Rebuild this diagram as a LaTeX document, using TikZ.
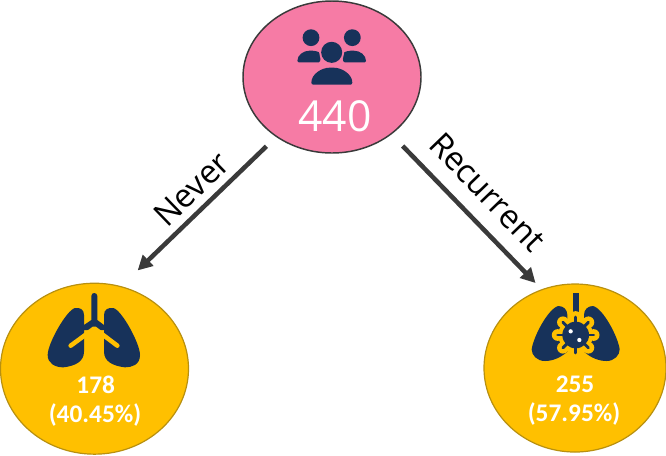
\documentclass[tikz,border=0pt]{standalone}
\usepackage{fontspec}
\setmainfont{Open Sans}
\newfontfamily\carl{Carlito}
\usetikzlibrary{arrows.meta,shapes.geometric}
\definecolor{navy}{HTML}{17325A}
\definecolor{pinkfill}{HTML}{F67BA5}
\definecolor{amber}{HTML}{FFC000}
\definecolor{amberedge}{HTML}{B8900F}
\definecolor{dark}{HTML}{3A3A3A}
\tikzset{
  topnode/.style={ellipse,draw=dark,line width=1.1pt,fill=pinkfill,minimum width=133.5pt,minimum height=114pt,inner sep=0pt},
  leafnode/.style={ellipse,draw=amberedge,line width=.9pt,fill=amber,inner sep=0pt},
  flow/.style={draw=dark,line width=3.4pt,-{Triangle[length=11pt,width=11pt]}},
  flowlabel/.style={font=\fontsize{24.5}{30}\selectfont,text=black},
  count/.style={font=\carl\bfseries\fontsize{19}{23}\selectfont,text=white,align=center},
  icon/.style={x=.25pt,y=-.25pt},
}
\begin{document}
\begin{tikzpicture}[x=.75pt,y=-.75pt]
\useasboundingbox (0,0) rectangle (666,455);
\node[topnode] (top) at (332,77) {};
\node[leafnode,minimum width=141pt,minimum height=128.2pt] (never) at (94.5,368.7) {};
\node[leafnode,minimum width=136.5pt,minimum height=126pt] (recur) at (575,368) {};
\draw[flow,shorten <=10pt,shorten >=17pt] (top.227) -- (never.72);
\draw[flow,shorten <=12pt,shorten >=6.5pt] (top.316) -- (recur.113);
\node[flowlabel,rotate=44] (lnever) at (191.5,189) {Never};
\node[flowlabel,rotate=-46] (lrecur) at (487.5,192) {Recurrent};
% people icon
\begin{scope}[shift={(240,0)},icon]
\fill[navy] (213,113) circle[radius=6.3pt];
\fill[navy] (337,113) circle[radius=6.3pt];
\fill[navy,rounded corners=1pt] (172,187) .. controls (172,165) and (190,152) .. (213,152) .. controls (225,152) and (235,155) .. (243,160) -- (240,187) -- cycle;
\fill[navy,rounded corners=1pt] (378,187) .. controls (378,165) and (360,152) .. (337,152) .. controls (325,152) and (315,155) .. (307,160) -- (310,187) -- cycle;
\fill[pinkfill] (275,157) circle[radius=9.4pt];
\fill[navy] (275,157) circle[radius=7.9pt];
\fill[navy,rounded corners=1.5pt] (214,254) .. controls (214,222) and (245,203) .. (275,203) .. controls (305,203) and (337,222) .. (337,254) -- cycle;
\end{scope}
\node[font=\fontsize{32}{38}\selectfont,text=white] (n440) at (335,116) {440};
% lungs
\begin{scope}[shift={(0,280)},icon]
\fill[navy] (225,84) .. controls (240,82) and (252,88) .. (252,105) -- (252,135) -- (274,120) -- (274,48) .. controls (274,36) and (292,36) .. (292,48) -- (292,120) -- (312,135) -- (312,105) .. controls (312,88) and (325,82) .. (340,84) .. controls (365,90) and (420,190) .. (420,225) .. controls (420,255) and (395,262) .. (375,262) .. controls (340,258) and (312,245) .. (312,215) -- (312,150) -- (252,150) -- (252,215) .. controls (252,245) and (225,258) .. (190,262) .. controls (165,262) and (143,250) .. (143,225) .. controls (143,190) and (200,90) .. (225,84) -- cycle;
\draw[amber,line width=3.4pt,line cap=round,line join=round] (212,197) -- (283,145) -- (352,197);
\end{scope}
\node[count] (n178) at (95.7,385) {178};
\node[count] (p178) at (95,415) {(40.45\%)};
% infected lungs
\begin{scope}[shift={(480,280)},icon]
\fill[navy] (278,38) rectangle (296,95);
\fill[navy] (235,78) .. controls (250,78) and (262,88) .. (262,105) -- (262,215) .. controls (240,235) and (215,243) .. (195,243) .. controls (170,243) and (155,225) .. (155,208) .. controls (160,170) and (205,85) .. (235,78) -- cycle;
\fill[navy] (339,78) .. controls (324,78) and (312,88) .. (312,105) -- (312,215) .. controls (334,235) and (359,243) .. (379,243) .. controls (404,243) and (419,225) .. (419,208) .. controls (414,170) and (369,85) .. (339,78) -- cycle;
\fill[amber] (287,165) circle[radius=13pt];
\foreach \a in {0,45,...,315}
  \fill[amber] (287,165) ++(\a:54) circle[radius=4.4pt];
\foreach \a in {0,45,...,315}
  \draw[navy,line width=2.2pt,line cap=round] (287,165) -- ++(\a:54);
\fill[navy] (287,165) circle[radius=10pt];
\fill[white] (272,154) circle[radius=1.6pt];
\fill[white] (298,180) circle[radius=1.6pt];
\end{scope}
\node[count] (n255) at (575,384) {255};
\node[count] (p255) at (574,414) {(57.95\%)};
\end{tikzpicture}
\end{document}
